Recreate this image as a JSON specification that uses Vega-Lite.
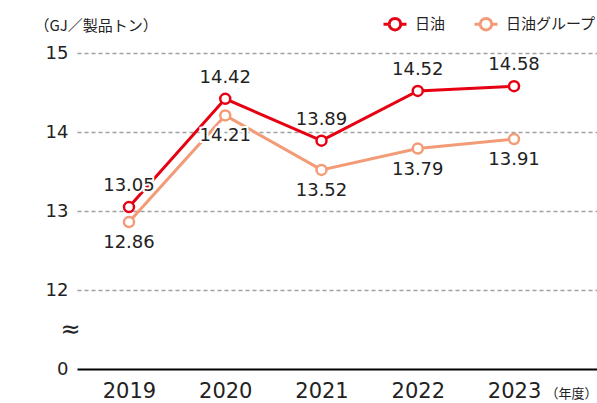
{
  "$schema": "https://vega.github.io/schema/vega-lite/v6.json",
  "width": 520,
  "height": 316,
  "autosize": {"type": "none"},
  "padding": {"left": 77, "top": 53, "right": 0, "bottom": 34},
  "background": "white",
  "config": {"view": {"stroke": null}},
  "data": {
    "values": [
      {"year": 2019, "series": "日油", "value": 13.05},
      {"year": 2020, "series": "日油", "value": 14.42},
      {"year": 2021, "series": "日油", "value": 13.89},
      {"year": 2022, "series": "日油", "value": 14.52},
      {"year": 2023, "series": "日油", "value": 14.58},
      {"year": 2019, "series": "日油グループ", "value": 12.86},
      {"year": 2020, "series": "日油グループ", "value": 14.21},
      {"year": 2021, "series": "日油グループ", "value": 13.52},
      {"year": 2022, "series": "日油グループ", "value": 13.79},
      {"year": 2023, "series": "日油グループ", "value": 13.91}
    ]
  },
  "encoding": {
    "x": {
      "field": "year", "type": "quantitative",
      "scale": {"domain": [2018.46, 2023.862], "nice": false, "zero": false},
      "axis": {
        "title": "（年度）",
        "titleFont": "Noto Sans CJK JP", "titleFontSize": 13, "titleFontWeight": "normal", "titleColor": "#222",
        "titleAnchor": null, "titleAlign": "right", "titleBaseline": "middle", "titleX": 520, "titleY": 24,
        "values": [2019, 2020, 2021, 2022, 2023], "format": "d",
        "labelAngle": 0, "labelFont": "DejaVu Sans", "labelFontSize": 21, "labelColor": "#222",
        "labelPadding": 11, "ticks": false, "domainColor": "#000", "domainWidth": 2, "grid": false
      }
    },
    "y": {
      "field": "value", "type": "quantitative",
      "scale": {"domain": [11, 15], "nice": false, "zero": false},
      "axis": {
        "title": "（GJ／製品トン）",
        "titleFont": "Noto Sans CJK JP", "titleFontSize": 15, "titleFontWeight": "normal", "titleColor": "#222",
        "titleAngle": 0, "titleAnchor": null, "titleAlign": "left", "titleBaseline": "middle", "titleX": -43, "titleY": -28,
        "values": [11, 11.5, 12, 13, 14, 15],
        "labelExpr": "datum.value == 11 ? '0' : (datum.value == 11.5 ? '≈' : format(datum.value, 'd'))",
        "labelFont": "DejaVu Sans", "labelColor": "#222",
        "labelPadding": {"condition": {"test": "datum.value == 11.5", "value": 7}, "value": 9},
        "labelAlign": {"condition": {"test": "datum.value == 11.5", "value": "center"}, "value": "right"},
        "labelFontSize": {"condition": {"test": "datum.value == 11.5", "value": 24}, "value": 18},
        "ticks": false, "domain": false,
        "grid": true, "gridDash": [4, 3], "gridColor": "#a0a0a0", "gridWidth": 1.5,
        "gridOpacity": {"condition": {"test": "datum.value < 12", "value": 0}, "value": 1}
      }
    }
  },
  "layer": [
    {"mark": {"type": "line", "strokeWidth": 3},
     "encoding": {
       "color": {
         "field": "series", "type": "nominal",
         "scale": {"domain": ["日油", "日油グループ"], "range": ["#E60012", "#F29B76"]},
         "legend": {
           "title": null, "orient": "none", "direction": "horizontal", "legendX": 305, "legendY": -42,
           "symbolType": "M-1,0H-0.5M0.5,0H1M-0.5,0A0.5,0.5,0,1,0,0.5,0A0.5,0.5,0,1,0,-0.5,0",
           "symbolSize": 529, "symbolStrokeWidth": 3, "symbolFillColor": "white",
           "labelFont": "Noto Sans CJK JP", "labelFontSize": 15, "labelColor": "#222",
           "labelOffset": 7, "columnPadding": 22
         }
       }
     }},
    {"mark": {"type": "point", "shape": "circle", "filled": false, "fill": "white", "size": 100, "strokeWidth": 2.5, "opacity": 1, "fillOpacity": 1},
     "encoding": {"stroke": {"field": "series", "type": "nominal", "legend": null, "scale": {"domain": ["日油", "日油グループ"], "range": ["#E60012", "#F29B76"]}}}},
    {"transform": [{"filter": "datum.series == '日油'"}],
     "mark": {"type": "text", "font": "DejaVu Sans", "fontSize": 18, "stroke": "white", "strokeWidth": 4, "baseline": "middle", "dy": -21, "color": "white"},
     "encoding": {"text": {"field": "value", "type": "quantitative", "format": ".2f"}}},
    {"transform": [{"filter": "datum.series != '日油'"}],
     "mark": {"type": "text", "font": "DejaVu Sans", "fontSize": 18, "stroke": "white", "strokeWidth": 4, "baseline": "middle", "dy": 21, "color": "white"},
     "encoding": {"text": {"field": "value", "type": "quantitative", "format": ".2f"}}},
    {"transform": [{"filter": "datum.series == '日油'"}],
     "mark": {"type": "text", "font": "DejaVu Sans", "fontSize": 18, "baseline": "middle", "dy": -21, "color": "#222"},
     "encoding": {"text": {"field": "value", "type": "quantitative", "format": ".2f"}}},
    {"transform": [{"filter": "datum.series != '日油'"}],
     "mark": {"type": "text", "font": "DejaVu Sans", "fontSize": 18, "baseline": "middle", "dy": 21, "color": "#222"},
     "encoding": {"text": {"field": "value", "type": "quantitative", "format": ".2f"}}}
  ]
}
